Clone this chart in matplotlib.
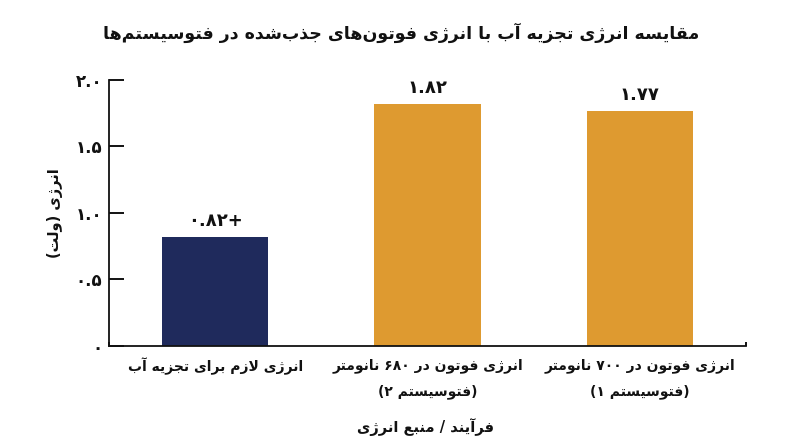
import re
import matplotlib
matplotlib.use("Agg")
import matplotlib.pyplot as plt
from matplotlib.ticker import FuncFormatter

# --- data (texts in normal logical order) ---
categories = [
    "انرژی لازم برای تجزیه آب",
    "انرژی فوتون در ۶۸۰ نانومتر\n(فتوسیستم ۲)",
    "انرژی فوتون در ۷۰۰ نانومتر\n(فتوسیستم ۱)",
]
values = [0.82, 1.82, 1.77]
value_signs = ["+", "", ""]
bar_colors = ["#1f2a5c", "#de9a30", "#de9a30"]
y_ticks = [0, 0.5, 1.0, 1.5, 2.0]

title = "مقایسه انرژی تجزیه آب با انرژی فوتون‌های جذب‌شده در فتوسیستم‌ها"
x_label = "فرآیند / منبع انرژی"
y_label = "انرژی (ولت)"

# --- minimal Persian shaping + right-to-left ordering ---
# matplotlib draws glyphs left to right without shaping, so do it by hand
FORMS = {
    'ا': (0xFE8D, 0xFE8E, None, None),
    'آ': (0xFE81, 0xFE82, None, None),
    'ب': (0xFE8F, 0xFE90, 0xFE91, 0xFE92),
    'ت': (0xFE95, 0xFE96, 0xFE97, 0xFE98),
    'ج': (0xFE9D, 0xFE9E, 0xFE9F, 0xFEA0),
    'د': (0xFEA9, 0xFEAA, None, None),
    'ذ': (0xFEAB, 0xFEAC, None, None),
    'ر': (0xFEAD, 0xFEAE, None, None),
    'ز': (0xFEAF, 0xFEB0, None, None),
    'ژ': (0xFB8A, 0xFB8B, None, None),
    'س': (0xFEB1, 0xFEB2, 0xFEB3, 0xFEB4),
    'ش': (0xFEB5, 0xFEB6, 0xFEB7, 0xFEB8),
    'ع': (0xFEC9, 0xFECA, 0xFECB, 0xFECC),
    'ف': (0xFED1, 0xFED2, 0xFED3, 0xFED4),
    'ق': (0xFED5, 0xFED6, 0xFED7, 0xFED8),
    'ل': (0xFEDD, 0xFEDE, 0xFEDF, 0xFEE0),
    'م': (0xFEE1, 0xFEE2, 0xFEE3, 0xFEE4),
    'ن': (0xFEE5, 0xFEE6, 0xFEE7, 0xFEE8),
    'ه': (0xFEE9, 0xFEEA, 0xFEEB, 0xFEEC),
    'و': (0xFEED, 0xFEEE, None, None),
    'ی': (0xFEEF, 0xFEF0, 0xFEF3, 0xFEF4),
}
LAM_ALEF = {'ا': (0xFEFB, 0xFEFC), 'آ': (0xFEF5, 0xFEF6)}
ZWNJ = '\u200c'
FA_DIGITS = str.maketrans("0123456789", "۰۱۲۳۴۵۶۷۸۹")
MIRROR = {"(": ")", ")": "("}


def joins_forward(c):
    return c in FORMS and FORMS[c][2] is not None


def shape_run(run):
    out = []
    i = 0
    n = len(run)
    while i < n:
        c = run[i]
        if c == ZWNJ:
            i += 1
            continue
        prev = run[i - 1] if i > 0 else None
        joins_prev = prev is not None and joins_forward(prev)
        if c == 'ل' and i + 1 < n and run[i + 1] in LAM_ALEF:
            iso, fin = LAM_ALEF[run[i + 1]]
            out.append(chr(fin if joins_prev else iso))
            i += 2
            continue
        nxt = run[i + 1] if i + 1 < n else None
        joins_next = joins_forward(c) and nxt in FORMS
        iso, fin, ini, med = FORMS[c]
        if joins_prev and joins_next:
            g = med
        elif joins_prev:
            g = fin
        elif joins_next:
            g = ini
        else:
            g = iso
        out.append(chr(g))
        i += 1
    return ''.join(out)


def fa(text):
    """Shape the letters and put each line in right-to-left visual order,
    keeping digit groups left to right."""
    lines = []
    for line in text.split("\n"):
        res, run = [], ""
        for ch in line:
            if ch in FORMS or ch == ZWNJ:
                run += ch
            else:
                if run:
                    res.append(shape_run(run))
                    run = ""
                res.append(ch)
        if run:
            res.append(shape_run(run))
        shaped = "".join(res)
        units = re.findall(r"[۰-۹0-9]+(?:\.[۰-۹0-9]+)*|.", shaped)
        lines.append("".join(MIRROR.get(u, u) for u in reversed(units)))
    return "\n".join(lines)


def fa_num(v, fmt):
    return (fmt % v).translate(FA_DIGITS)


plt.rcParams['font.family'] = ['DejaVu Sans']
text_color = "#111111"

fig = plt.figure(figsize=(8, 4.47), dpi=100)
ax = fig.add_axes([0.13625, 0.226, 0.79625, 0.5951])

x = list(range(len(categories)))
ax.bar(x, values, width=0.5, color=bar_colors)

for xi, v, s in zip(x, values, value_signs):
    ax.annotate(fa(s + fa_num(v, "%.2f")), (xi, v), xytext=(0, 5),
                textcoords="offset points", ha="center", va="bottom",
                fontsize=13, fontweight="bold", color=text_color)

ax.set_xlim(-0.5, 2.5)
ax.set_ylim(0, 2.0)
ax.set_yticks(y_ticks)
ax.yaxis.set_major_formatter(FuncFormatter(
    lambda v, p: "۰" if v == 0 else fa_num(v, "%.1f")))
ax.set_xticks(x)
ax.set_xticklabels([fa(c) for c in categories], fontsize=10,
                   fontweight="bold", color=text_color, linespacing=2.05)
ax.set_xticks([-0.5, 2.5], minor=True)

ax.tick_params(axis="y", direction="in", length=11, width=1.3, pad=5,
               labelsize=12, labelcolor=text_color)
for lab in ax.get_yticklabels():
    lab.set_fontweight("bold")
ax.tick_params(axis="x", which="major", length=0, pad=8.5)
ax.tick_params(axis="x", which="minor", direction="in", length=3, width=1.3)

for side in ["top", "right"]:
    ax.spines[side].set_visible(False)
for side in ["left", "bottom"]:
    ax.spines[side].set_linewidth(1.3)
    ax.spines[side].set_color("#111111")

ax.set_ylabel(fa(y_label), fontsize=10.5, fontweight="bold", color=text_color,
              va="center")
ax.yaxis.set_label_coords(-0.085, 0.5)
ax.set_xlabel(fa(x_label), fontsize=10.5, fontweight="bold", color=text_color,
              va="center")
ax.xaxis.set_label_coords(0.497, -0.3045)

fig.text(0.501, 1 - 33 / 447, fa(title), ha="center", va="center",
         fontsize=12.5, fontweight="bold", color=text_color)

fig.savefig("out.png", dpi=100)
